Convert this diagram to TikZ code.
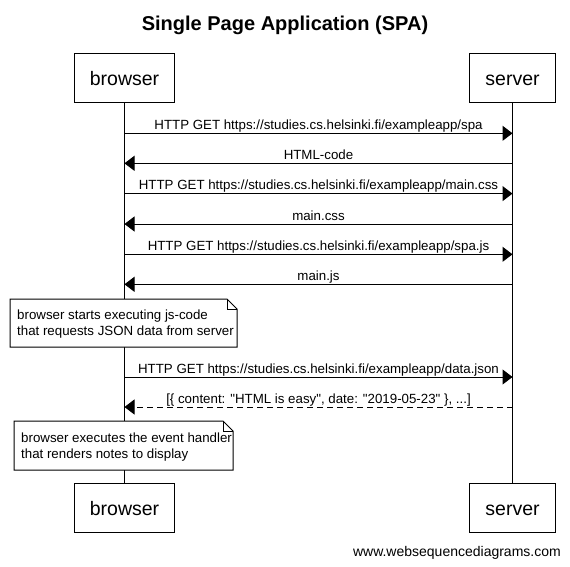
\documentclass[tikz,border=0pt]{standalone}
\usepackage{fontspec}
\setmainfont{Liberation Sans}
\usetikzlibrary{arrows.meta}

\begin{document}
\begin{tikzpicture}[x=1pt, y=-1pt,
  actor/.style={draw, line width=1pt, minimum height=49pt, inner sep=0pt,
    text height=15pt, text depth=0pt, font=\fontsize{19.5}{23}\selectfont},
  msg/.style={line width=1pt, -{Triangle[length=10pt,width=15pt]}},
  lbl/.style={anchor=base, yshift=4pt, inner sep=0pt, font=\fontsize{13.3}{16}\selectfont},
  notebox/.style={draw, fill=white, line width=1pt},
  notetxt/.style={anchor=base west, inner sep=0pt, font=\fontsize{13.3}{16}\selectfont}]

\useasboundingbox (0,0) rectangle (570,566);

% Title
\node[anchor=base, font=\fontsize{20}{24}\selectfont\bfseries] (title) at (285,30) {Single Page Application (SPA)};

% Participants
\node[actor, minimum width=100pt] (brTop) at (124.5,77.7) {browser};
\node[actor, minimum width=86pt] (svTop) at (512.5,77.7) {server};
\node[actor, minimum width=100pt] (brBot) at (124.5,507.8) {browser};
\node[actor, minimum width=86pt] (svBot) at (512.5,507.8) {server};

% Lifelines
\draw[line width=1pt] (brTop) -- (brBot);
\draw[line width=1pt] (svTop) -- (svBot);

% Messages
\draw[msg] (brTop |- 0,133.3) -- node[lbl] {HTTP GET https://studies.cs.helsinki.fi/exampleapp/spa} (svTop |- 0,133.3);
\draw[msg] (svTop |- 0,163.3) -- node[lbl] {HTML-code} (brTop |- 0,163.3);
\draw[msg] (brTop |- 0,193.6) -- node[lbl] {HTTP GET https://studies.cs.helsinki.fi/exampleapp/main.css} (svTop |- 0,193.6);
\draw[msg] (svTop |- 0,224) -- node[lbl] {main.css} (brTop |- 0,224);
\draw[msg] (brTop |- 0,254.3) -- node[lbl] {HTTP GET https://studies.cs.helsinki.fi/exampleapp/spa.js} (svTop |- 0,254.3);
\draw[msg] (svTop |- 0,284.3) -- node[lbl] {main.js} (brTop |- 0,284.3);

% Note 1
\draw[notebox] (10,299) -- (227,299) -- (237,309) -- (237,347) -- (10,347) -- cycle;
\draw[line width=1pt] (227,299) -- (227,309) -- (237,309);
\node[notetxt] (note1a) at (17,319) {browser starts executing js-code};
\node[notetxt] (note1b) at (17,335) {that requests JSON data from server};

\draw[msg] (brTop |- 0,377) -- node[lbl] {HTTP GET https://studies.cs.helsinki.fi/exampleapp/data.json} (svTop |- 0,377);
\draw[msg, dash pattern=on 6pt off 4pt] (svTop |- 0,407) -- node[lbl] {[\{ content: \textquotedbl HTML is easy\textquotedbl, date: \textquotedbl 2019-05-23\textquotedbl\ \}, ...]} (brTop |- 0,407);

% Note 2
\draw[notebox] (14,421) -- (223,421) -- (233,431) -- (233,470) -- (14,470) -- cycle;
\draw[line width=1pt] (223,421) -- (223,431) -- (233,431);
\node[notetxt] (note2a) at (21,442) {browser executes the event handler};
\node[notetxt] (note2b) at (21,458) {that renders notes to display};

% Footer
\node[anchor=base east, inner sep=0pt, font=\fontsize{14}{17}\selectfont] (footer) at (561,556) {www.websequencediagrams.com};

\end{tikzpicture}
\end{document}
